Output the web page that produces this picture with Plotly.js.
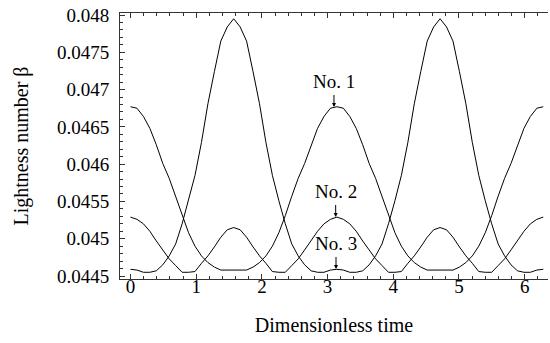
<!DOCTYPE html>
<html>
<head>
<meta charset="utf-8">
<script src="https://cdn.plot.ly/plotly-3.0.1.min.js"></script>
<style>html,body{margin:0;padding:0;background:#fff;}#chart{width:550px;height:343px;}</style>
</head>
<body>
<div id="chart"></div>
<script>
// Dimensionless time (0 .. 2π)
const time = [0, 0.0982, 0.1963, 0.2945, 0.3927, 0.4909, 0.5890, 0.6872, 0.7854, 0.8836, 0.9817, 1.0799, 1.1781, 1.2763, 1.3744, 1.4726, 1.5708, 1.6690, 1.7671, 1.8653, 1.9635, 2.0617, 2.1598, 2.2580, 2.3562, 2.4544, 2.5525, 2.6507, 2.7489, 2.8471, 2.9452, 3.0434, 3.1416, 3.2398, 3.3379, 3.4361, 3.5343, 3.6325, 3.7306, 3.8288, 3.9270, 4.0252, 4.1233, 4.2215, 4.3197, 4.4179, 4.5160, 4.6142, 4.7124, 4.8106, 4.9087, 5.0069, 5.1051, 5.2033, 5.3014, 5.3996, 5.4978, 5.5960, 5.6941, 5.7923, 5.8905, 5.9887, 6.0868, 6.1850, 6.2832];

// No. 1
const betaNo1 = [0.04677, 0.04675, 0.04664, 0.04648, 0.04626, 0.04601, 0.04581, 0.04557, 0.04531, 0.04508, 0.04490, 0.04477, 0.04468, 0.04462, 0.04458, 0.04458, 0.04458,
  0.04458, 0.04458, 0.04462, 0.04468, 0.04477, 0.04490, 0.04508, 0.04531, 0.04557, 0.04581, 0.04601, 0.04626, 0.04648, 0.04664, 0.04675, 0.04677,
  0.04675, 0.04664, 0.04648, 0.04626, 0.04601, 0.04581, 0.04557, 0.04531, 0.04508, 0.04490, 0.04477, 0.04468, 0.04462, 0.04458, 0.04458, 0.04458,
  0.04458, 0.04458, 0.04462, 0.04468, 0.04477, 0.04490, 0.04508, 0.04531, 0.04557, 0.04581, 0.04601, 0.04626, 0.04648, 0.04664, 0.04675, 0.04677];

// No. 2
const betaNo2 = [0.04529, 0.04526, 0.04520, 0.04510, 0.04497, 0.04485, 0.04473, 0.04464, 0.04455, 0.04455, 0.04456, 0.04467, 0.04477, 0.04489, 0.04502, 0.04512, 0.04515,
  0.04512, 0.04502, 0.04489, 0.04477, 0.04467, 0.04456, 0.04455, 0.04455, 0.04464, 0.04473, 0.04485, 0.04497, 0.04510, 0.04520, 0.04526, 0.04529,
  0.04526, 0.04520, 0.04510, 0.04497, 0.04485, 0.04473, 0.04464, 0.04455, 0.04455, 0.04456, 0.04467, 0.04477, 0.04489, 0.04502, 0.04512, 0.04515,
  0.04512, 0.04502, 0.04489, 0.04477, 0.04467, 0.04456, 0.04455, 0.04455, 0.04464, 0.04473, 0.04485, 0.04497, 0.04510, 0.04520, 0.04526, 0.04529];

// No. 3
const betaNo3 = [0.04459, 0.04458, 0.04455, 0.04455, 0.04457, 0.04465, 0.04477, 0.04493, 0.04520, 0.04551, 0.04585, 0.04629, 0.04681, 0.04724, 0.04765, 0.04784, 0.04795,
  0.04784, 0.04765, 0.04724, 0.04681, 0.04629, 0.04585, 0.04551, 0.04520, 0.04493, 0.04477, 0.04465, 0.04457, 0.04455, 0.04455, 0.04458, 0.04459,
  0.04458, 0.04455, 0.04455, 0.04457, 0.04465, 0.04477, 0.04493, 0.04520, 0.04551, 0.04585, 0.04629, 0.04681, 0.04724, 0.04765, 0.04784, 0.04795,
  0.04784, 0.04765, 0.04724, 0.04681, 0.04629, 0.04585, 0.04551, 0.04520, 0.04493, 0.04477, 0.04465, 0.04457, 0.04455, 0.04455, 0.04458, 0.04459];

const xTickVals = [0, 1, 2, 3, 4, 5, 6];
const yTickVals = [0.0445, 0.045, 0.0455, 0.046, 0.0465, 0.047, 0.0475, 0.048];
const yTickText = ['0.0445', '0.045', '0.0455', '0.046', '0.0465', '0.047', '0.0475', '0.048'];

const labelNames = ['No. 1', 'No. 2', 'No. 3'];
const labelX = [3.097, 3.123, 3.128];
const labelY = [0.046767, 0.045292, 0.044595];

const FONT = 'Liberation Serif, Times New Roman, serif';
const series = [betaNo1, betaNo2, betaNo3];
const traces = series.map((s, i) => ({
  x: time, y: s, type: 'scatter', mode: 'lines', name: labelNames[i],
  line: {color: '#000', width: 1}, hoverinfo: 'skip'
}));

const annotations = labelNames.map((n, i) => ({
  x: labelX[i], y: labelY[i], xref: 'x', yref: 'y', text: n,
  showarrow: true, ax: 0, ay: -25, arrowhead: 2, arrowsize: 0.8, arrowwidth: 1,
  arrowcolor: '#000', standoff: 0, startstandoff: 1,
  font: {family: FONT, size: 19, color: '#000'}
}));

const layout = {
  width: 550, height: 343,
  margin: {l: 120, r: 2, t: 13, b: 64},
  paper_bgcolor: '#fff', plot_bgcolor: '#fff',
  showlegend: false,
  font: {family: FONT, size: 19, color: '#000'},
  xaxis: {
    range: [-0.16, 6.355], tickvals: xTickVals,
    ticks: 'inside', ticklen: 5, tickwidth: 1, tickcolor: '#333',
    minor: {dtick: 0.2, tick0: 0, ticks: 'inside', ticklen: 3, tickcolor: '#333'},
    showline: true, linecolor: '#333', linewidth: 1, mirror: 'allticks',
    showgrid: false, zeroline: false, ticklabelstandoff: -10,
    tickfont: {family: FONT, size: 19, color: '#000'},
    title: {text: 'Dimensionless time', font: {family: FONT, size: 20, color: '#000'}, standoff: 22}
  },
  yaxis: {
    range: [0.04446, 0.048027], tickvals: yTickVals, ticktext: yTickText,
    ticks: 'inside', ticklen: 5, tickwidth: 1, tickcolor: '#333',
    minor: {dtick: 0.0001, tick0: 0.0445, ticks: 'inside', ticklen: 3, tickcolor: '#333'},
    showline: true, linecolor: '#333', linewidth: 1, mirror: false,
    showgrid: false, zeroline: false, ticklabelstandoff: 6,
    tickfont: {family: FONT, size: 19, color: '#000'},
    title: {text: 'Lightness number β', font: {family: FONT, size: 20, color: '#000'}, standoff: 22}
  },
  annotations: annotations
};

Plotly.newPlot('chart', traces, layout, {displayModeBar: false, staticPlot: true});
</script>
</body>
</html>
